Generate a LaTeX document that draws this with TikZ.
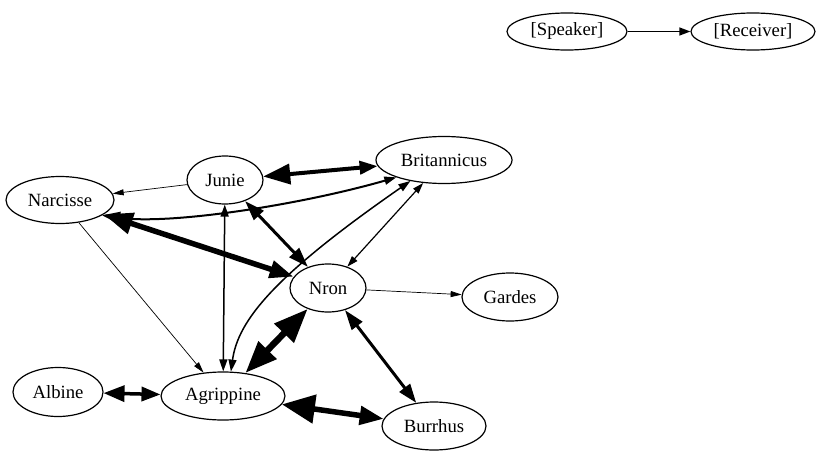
\documentclass[tikz,border=0pt]{standalone}
\usepackage{fontspec}
\setmainfont{Liberation Serif}
\usetikzlibrary{shapes.geometric,arrows.meta}
\begin{document}
\begin{tikzpicture}[x=1pt,y=-1pt,
  nd/.style={draw, ellipse, line width=1.2pt, inner sep=0pt, font=\fontsize{18.7}{22}\selectfont},
  thin/.style={line width=0.7pt, -{Triangle[length=11pt,width=6pt]}},
]
\useasboundingbox (0,0) rectangle (822,455);
\node[nd, minimum width=120pt, minimum height=37pt] (spk) at (567,31.5) {[Speaker]};
\node[nd, minimum width=124pt, minimum height=37pt] (rec) at (753,31.5) {[Receiver]};
\node[nd, minimum width=136pt, minimum height=47pt] (bri) at (444,160) {Britannicus};
\node[nd, minimum width=76pt, minimum height=48pt] (jun) at (225,180) {Junie};
\node[nd, minimum width=108pt, minimum height=47pt] (nar) at (60,200) {Narcisse};
\node[nd, minimum width=76pt, minimum height=48pt] (ner) at (328,288) {Nron};
\node[nd, minimum width=96pt, minimum height=48pt] (gar) at (510,297) {Gardes};
\node[nd, minimum width=90pt, minimum height=49pt] (alb) at (58,392) {Albine};
\node[nd, minimum width=124pt, minimum height=48pt] (agr) at (223,396) {Agrippine};
\node[nd, minimum width=104pt, minimum height=48pt] (bur) at (434,426) {Burrhus};

\draw[line width=1.3pt, -{Triangle[length=11pt,width=8pt]}] (spk) -- (rec);
\draw[thin] (jun) -- (nar);
\draw[line width=4pt, {Triangle[length=27pt,width=20pt]}-{Triangle[length=18pt,width=13pt]}] (jun) -- (bri);
\draw[line width=2pt, {Triangle[length=18pt,width=12pt]}-{Triangle[length=12pt,width=8pt]}] (nar.-20) .. controls (170,225) and (300,205) .. (bri.200);
\draw[line width=5.5pt, {Triangle[length=29pt,width=21pt]}-{Triangle[length=24pt,width=17pt]}] (nar) -- (ner);
\draw[line width=3pt, {Triangle[length=20pt,width=13pt]}-{Triangle[length=20pt,width=13pt]}] (jun) -- (ner);
\draw[line width=1.5pt, {Triangle[length=12pt,width=8pt]}-{Triangle[length=12pt,width=8pt]}] (jun) -- (agr);
\draw[line width=1.5pt, {Triangle[length=12pt,width=8pt]}-{Triangle[length=12pt,width=8pt]}] (agr.72) .. controls (238,320) and (275,275) .. (bri.212);
\draw[line width=1.2pt, {Triangle[length=11pt,width=7pt]}-{Triangle[length=11pt,width=7pt]}] (ner) -- (bri);
\draw[line width=6.5pt, {Triangle[length=34pt,width=26pt]}-{Triangle[length=32pt,width=24pt]}] (ner) -- (agr);
\draw[line width=3pt, {Triangle[length=20pt,width=13pt]}-{Triangle[length=19pt,width=13pt]}] (ner) -- (bur);
\draw[line width=5.5pt, {Triangle[length=33pt,width=28pt]}-{Triangle[length=24pt,width=18pt]}] (agr) -- (bur);
\draw[line width=3.5pt, {Triangle[length=21pt,width=16pt]}-{Triangle[length=19pt,width=14pt]}] (alb) -- (agr);
\draw[thin] (ner) -- (gar);
\draw[thin] (nar) -- (agr);
\end{tikzpicture}
\end{document}
